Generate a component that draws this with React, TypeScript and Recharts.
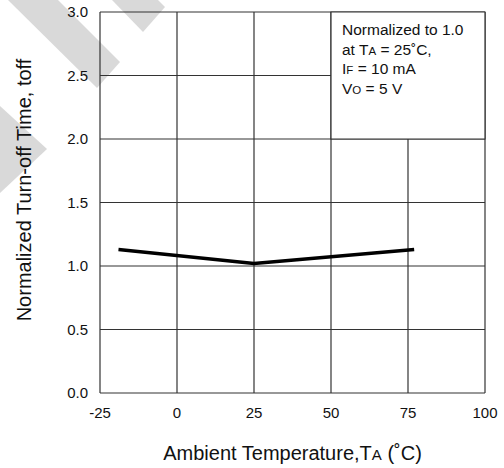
import { LineChart, Line, XAxis, YAxis, CartesianGrid, ReferenceArea } from 'recharts'

// Ambient temperature (°C) and normalized turn-off time
const temperature = [-19, 25, 77]
const toffNormalized = [1.13, 1.02, 1.13]

const xTicks = [-25, 0, 25, 50, 75, 100]
const yTicks = [0, 0.5, 1.0, 1.5, 2.0, 2.5, 3.0]

const noteLines = [
  ['Normalized to 1.0', '', ''],
  ['at T', 'A', ' = 25˚C,'],
  ['I', 'F', ' = 10 mA'],
  ['V', 'O', ' = 5 V'],
]

const chartData = temperature.map((t, i) => ({ t, toff: toffNormalized[i] }))

const FONT = '"Liberation Sans", Arial, Helvetica, sans-serif'
const GRID = '#333'

// faint diagonal stripes printed behind the graph
const stripes = [
  '8,0 97,88 120,62 58,0',
  '112,0 143,32 165,7 158,0',
  '0,106 47,149 0,193',
]

const NoteLabel = (props: any) => {
  const { x, y } = props.viewBox
  return (
    <g fontFamily={FONT} fontSize={15.5} fill="#111">
      {noteLines.map((ln, i) => (
        <text key={i} x={x + 11} y={y + 23 + i * 19.5}>
          {ln[0]}
          {ln[1] && <tspan fontSize={11.5}>{ln[1]}</tspan>}
          {ln[2]}
        </text>
      ))}
    </g>
  )
}

const XTitle = (props: any) => {
  const { x, y, width } = props.viewBox
  return (
    <text x={x + width / 2} y={y + 67} textAnchor="middle" fontFamily={FONT} fontSize={20} fill="#111">
      Ambient Temperature,T<tspan fontSize={15}>A</tspan> (˚C)
    </text>
  )
}

const YTitle = () => (
  <text
    x={24}
    y={190}
    transform="rotate(-90, 24, 190)"
    textAnchor="middle"
    dominantBaseline="central"
    fontFamily={FONT}
    fontSize={20}
    fill="#111"
  >
    Normalized Turn-off Time, toff
  </text>
)

export default function App() {
  return (
    <div style={{ position: 'absolute', left: 0, top: 0, width: 504, height: 468, background: '#fff' }}>
      <svg width={504} height={468} style={{ position: 'absolute', left: 0, top: 0 }}>
        {stripes.map((p, i) => (
          <polygon key={i} points={p} fill="#d9d9d9" />
        ))}
      </svg>
      <div style={{ position: 'absolute', left: 0, top: 0 }}>
        <LineChart width={504} height={468} data={chartData} margin={{ top: 12, right: 19, left: 0, bottom: 0 }}>
          <CartesianGrid stroke={GRID} strokeWidth={1.2} />
          <XAxis
            dataKey="t"
            type="number"
            domain={[-25, 100]}
            ticks={xTicks}
            height={75}
            axisLine={false}
            tickLine={false}
            tickSize={0}
            tickMargin={14}
            tick={{ fontFamily: FONT, fontSize: 15, fill: '#111' }}
            label={{ content: <XTitle /> }}
          />
          <YAxis
            type="number"
            domain={[0, 3]}
            ticks={yTicks}
            width={100}
            axisLine={false}
            tickLine={false}
            tickSize={0}
            tickMargin={12}
            tickFormatter={(v: number) => v.toFixed(1)}
            tick={{ fontFamily: FONT, fontSize: 15, fill: '#111' }}
            label={{ content: <YTitle /> }}
          />
          <ReferenceArea
            x1={50}
            x2={100}
            y1={2}
            y2={3}
            fill="#fff"
            fillOpacity={1}
            stroke={GRID}
            strokeWidth={1.2}
            label={{ content: <NoteLabel /> }}
          />
          <Line
            dataKey="toff"
            stroke="#000"
            strokeWidth={3.5}
            dot={false}
            activeDot={false}
            isAnimationActive={false}
          />
        </LineChart>
      </div>
    </div>
  )
}
